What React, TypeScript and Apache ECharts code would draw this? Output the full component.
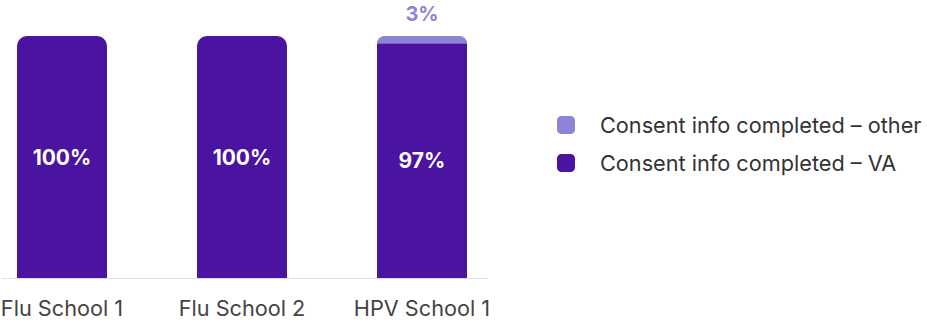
import React, { useEffect, useRef } from "react";
import * as echarts from "echarts";

const categories = ["Flu School 1", "Flu School 2", "HPV School 1"];
const vaValues = [100, 100, 97];
const otherValues = [0, 0, 3];
const seriesNames = ["Consent info completed – VA", "Consent info completed – other"];

const DARK = "#4a13a0";
const LIGHT = "#8b84d7";

export default function App() {
  const ref = useRef<HTMLDivElement>(null);
  useEffect(() => {
    const chart = echarts.init(ref.current!, null, { renderer: "svg" });
    chart.setOption({
      animation: false,
      textStyle: { fontFamily: "Inter" },
      grid: { left: -28, width: 540, top: 36, bottom: 46, containLabel: false, outerBoundsMode: "none" },
      legend: {
        orient: "vertical",
        left: 552,
        top: 109,
        data: [seriesNames[1], seriesNames[0]],
        icon: "roundRect",
        itemWidth: 18,
        itemHeight: 18,
        itemGap: 16,
        textStyle: { fontFamily: "Inter", fontSize: 21.7, color: "#333", padding: [0, 0, 0, 20] },
      },
      xAxis: {
        type: "category",
        data: categories,
        axisLine: { show: false },
        axisTick: { show: false },
        axisLabel: { fontFamily: "Inter", fontSize: 21.7, color: "#444", margin: 19 },
      },
      yAxis: {
        type: "value",
        min: 0,
        max: 100,
        show: false,
      },
      graphic: [
        {
          type: "line",
          shape: { x1: 2, y1: 278.5, x2: 488, y2: 278.5 },
          style: { stroke: "#dfe2ea", lineWidth: 1 },
          z: 100,
        },
      ],
      series: [
        {
          name: seriesNames[0],
          type: "bar",
          stack: "s",
          barWidth: 90,
          data: vaValues.map((v, i) => ({
            value: v,
            itemStyle: { borderRadius: otherValues[i] > 0 ? 0 : [10, 10, 0, 0] },
          })),
          itemStyle: { color: DARK },
          label: {
            show: true,
            position: "inside",
            formatter: (p: any) => p.value + "%",
            color: "#fff",
            fontFamily: "Inter",
            fontWeight: "bold",
            fontSize: 21,
          },
        },
        {
          name: seriesNames[1],
          type: "bar",
          stack: "s",
          barWidth: 90,
          data: otherValues,
          itemStyle: { color: LIGHT, borderRadius: [10, 10, 0, 0] },
          label: {
            show: true,
            position: "top",
            distance: 12,
            formatter: (p: any) => (p.value > 0 ? p.value + "%" : ""),
            color: LIGHT,
            fontFamily: "Inter",
            fontWeight: "bold",
            fontSize: 20,
          },
        },
      ],
    });
    return () => chart.dispose();
  }, []);
  return <div ref={ref} style={{ position: "absolute", left: 0, top: 0, width: 927, height: 324 }} />;
}
